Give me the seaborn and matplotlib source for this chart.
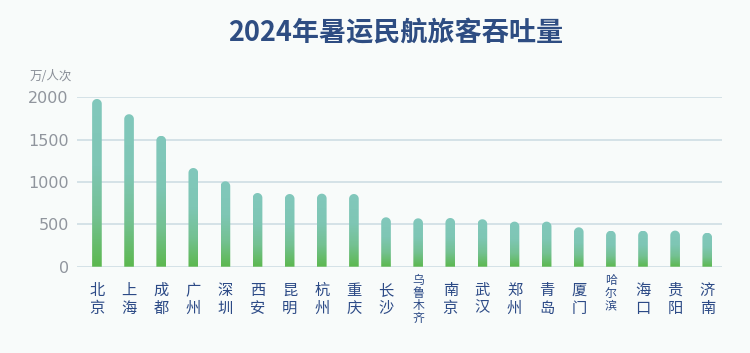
import numpy as np
import pandas as pd
import matplotlib
matplotlib.use('Agg')
import matplotlib.pyplot as plt
import seaborn as sns
from matplotlib.colors import LinearSegmentedColormap
from matplotlib.path import Path
from matplotlib.patches import PathPatch

# 数据
cities = ['北京', '上海', '成都', '广州', '深圳', '西安', '昆明', '杭州', '重庆', '长沙',
          '乌鲁木齐', '南京', '武汉', '郑州', '青岛', '厦门', '哈尔滨', '海口', '贵阳', '济南']
values = [1980, 1800, 1545, 1165, 1008, 870, 858, 862, 858, 583,
          571, 575, 560, 532, 532, 465, 425, 425, 426, 401]
y_ticks = [0, 500, 1000, 1500, 2000]

df = pd.DataFrame({'city': cities, 'value': values})

bg = '#f8fbfa'
sns.set_theme(style='white')
plt.rcParams['font.family'] = ['Noto Sans CJK SC', 'DejaVu Sans']

fig = plt.figure(figsize=(7.5, 3.53), dpi=100, facecolor=bg)
ax = fig.add_axes([0.1027, 0.2445, 0.86, 0.4799])
ax.set_facecolor(bg)

sns.barplot(data=df, x='city', y='value', width=0.3, ax=ax, color='#80c7bb')

n = len(cities)
ax.set_xlim(-0.62, n - 1 + 0.46)
ax.set_ylim(0, 2000)
fig.canvas.draw()

# 渐变色 + 圆角顶部
cmap = LinearSegmentedColormap.from_list('g', [(0, '#5cb84e'), (0.3, '#74c192'), (0.6, '#7ec6b4'), (1, '#82c8bc')])
grad = np.linspace(0, 1, 256).reshape(-1, 1)
# 每像素对应的数据单位
inv = ax.transData.inverted()
p0 = inv.transform((0, 0))
p1 = inv.transform((1, 1))
ux, uy = p1[0] - p0[0], p1[1] - p0[1]

for bar in list(ax.patches):
    x0 = bar.get_x()
    w = bar.get_width()
    h = bar.get_height()
    bar.set_visible(False)
    rx = w / 2
    ry = (rx / ux) * uy
    xc = x0 + w / 2
    ang = np.linspace(0, np.pi, 40)
    top_y = h - ry
    verts = [(x0, 0), (x0 + w, 0), (x0 + w, top_y)]
    verts += [(xc + rx * np.cos(a), top_y + ry * np.sin(a)) for a in ang]
    verts += [(x0, top_y), (x0, 0)]
    codes = [Path.MOVETO] + [Path.LINETO] * (len(verts) - 2) + [Path.CLOSEPOLY]
    clip = PathPatch(Path(verts, codes), facecolor='none', edgecolor='none', transform=ax.transData)
    ax.add_patch(clip)
    im = ax.imshow(grad, cmap=cmap, origin='lower', extent=[x0, x0 + w, 0, h],
                   aspect='auto', zorder=3, interpolation='bilinear')
    im.set_clip_path(clip)

ax.set_xlim(-0.62, n - 1 + 0.46)
ax.set_ylim(0, 2000)

# 网格线
for t in y_ticks:
    ax.axhline(t, color='#cfdde4', lw=1.2, zorder=1)

ax.set_yticks(y_ticks)
ax.set_yticklabels([str(t) for t in y_ticks], color='#90959d', fontsize=11.5, fontfamily='DejaVu Sans')
ax.tick_params(axis='y', length=0, pad=6)
ax.set_xticks([])
ax.set_xlabel('')
ax.set_ylabel('')
for s in ax.spines.values():
    s.set_visible(False)

# 城市标签（竖排）
lab_color = '#2c4a86'
for i, c in enumerate(cities):
    if len(c) == 2:
        ax.text(i, -0.09, '\n'.join(c), transform=ax.get_xaxis_transform(), ha='center', va='top',
                fontsize=11, color=lab_color, linespacing=1.05)
    else:
        ax.text(i, -0.045, '\n'.join(c), transform=ax.get_xaxis_transform(), ha='center', va='top',
                fontsize=8.6, color=lab_color, linespacing=0.95)

fig.text(0.04, 0.772, '万/人次', fontsize=9, color='#8a8f98')
fig.text(0.527, 0.905, '2024年暑运民航旅客吞吐量', ha='center', va='center',
         fontsize=19.5, fontweight='bold', color='#2e4d82')

fig.savefig('out.png', dpi=100, facecolor=bg)
